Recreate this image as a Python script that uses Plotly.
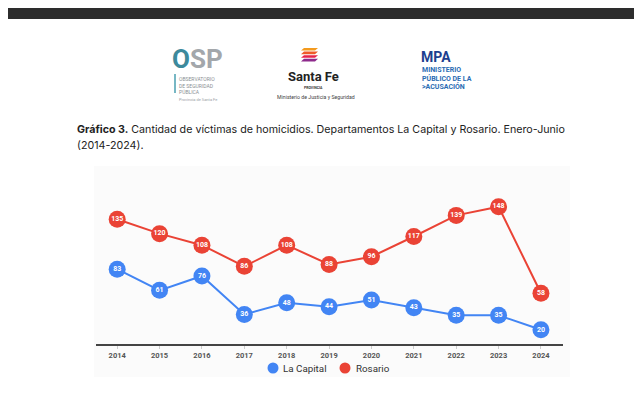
import plotly.graph_objects as go

years = [2014, 2015, 2016, 2017, 2018, 2019, 2020, 2021, 2022, 2023, 2024]
la_capital = [83, 61, 76, 36, 48, 44, 51, 43, 35, 35, 20]
rosario = [135, 120, 108, 86, 108, 88, 96, 117, 139, 148, 58]
series_names = ["La Capital", "Rosario"]
title_bold = "Gráfico 3."
title_rest = "Cantidad de víctimas de homicidios. Departamentos La Capital y Rosario. Enero-Junio"
title_line2 = "(2014-2024)."

# page offset: the html body has an 8px margin
OFF = 8
W, H = 642 - OFF, 411 - OFF
BLUE = "#4285F4"
RED = "#EA4335"


def fx(x):
    return (x - OFF) / W


def fy(y):
    return 1 - (y - OFF) / H


fig = go.Figure()

for name, vals, col in [(series_names[0], la_capital, BLUE), (series_names[1], rosario, RED)]:
    fig.add_trace(go.Scatter(
        x=years, y=vals, mode="lines+markers+text", name=name,
        line=dict(color=col, width=2),
        marker=dict(color=col, size=17),
        text=[str(v) for v in vals], textposition="middle center",
        textfont=dict(color="white", size=7, family="Roboto", weight="bold"),
        showlegend=False, cliponaxis=False,
    ))

shapes = []
# top dark bar
shapes.append(dict(type="rect", xref="paper", yref="paper", x0=0, x1=1,
                   y0=fy(19), y1=fy(8), fillcolor="#2d2d2d", line_width=0, layer="below"))
# right vertical line
shapes.append(dict(type="line", xref="paper", yref="paper", x0=fx(640), x1=fx(640),
                   y0=fy(378), y1=1, line=dict(color="#2d2d2d", width=2)))
# faint chart background
shapes.append(dict(type="rect", xref="paper", yref="paper", x0=fx(94), x1=fx(570),
                   y0=fy(377), y1=fy(166), fillcolor="#fbfbfb", line_width=0, layer="below"))
# OSP vertical teal line
shapes.append(dict(type="line", xref="paper", yref="paper", x0=fx(175), x1=fx(175),
                   y0=fy(93), y1=fy(74), line=dict(color="#4a9fb0", width=1.5)))
# Santa Fe icon stripes
stripe_cols = ["#f39a1e", "#ef5a28", "#e6224b", "#8e2a8c"]
for i, c in enumerate(stripe_cols):
    y0 = 48 + i * 3.6
    path = "M {x0},{y0} L {x1},{y0} L {x2},{y1} L {x3},{y1} Z".format(
        x0=fx(304), x1=fx(318), x2=fx(315), x3=fx(301),
        y0=fy(y0), y1=fy(y0 + 2.6))
    shapes.append(dict(type="path", xref="paper", yref="paper", path=path,
                       fillcolor=c, line_width=0))

# manual legend circles
R = 5.5
for cx, col in [(273, BLUE), (345, RED)]:
    shapes.append(dict(type="circle", xref="paper", yref="paper",
                       x0=fx(cx - R), x1=fx(cx + R), y0=fy(368 + R), y1=fy(368 - R),
                       fillcolor=col, line_width=0))

ann = []


def add_text(x, y, text, size, color="#222", xanchor="left", family="Roboto", bold=False,
             yanchor="middle"):
    ann.append(dict(x=fx(x), y=fy(y), xref="paper", yref="paper", text=text,
                    showarrow=False, xanchor=xanchor, yanchor=yanchor, borderpad=0,
                    align="left",
                    font=dict(size=size, color=color, family=family,
                              weight="bold" if bold else "normal")))


# OSP logo
add_text(171, 74.5, "<span style='color:#3d8a9c'>O</span>SP", 26, "#a3a7ab", bold=True,
         yanchor="bottom")
add_text(178, 74.5, "OBSERVATORIO<br>DE SEGURIDAD<br>PÚBLICA<br>"
         "<span style='font-size:4px;color:#9aa0a6'>Provincia de Santa Fe</span>",
         5, "#8a8f94", yanchor="top")
# Santa Fe logo
add_text(313, 76, "Santa Fe", 13, "#222", xanchor="center", bold=True)
add_text(313, 88, "PROVINCIA", 3.5, "#333", xanchor="center", bold=True)
add_text(316, 97, "Ministerio de Justicia y Seguridad", 5.2, "#444", xanchor="center")
# MPA logo
add_text(420, 57, "MPA", 14, "#1d3f8f", bold=True)
add_text(421, 70.5, "MINISTERIO", 7, "#2a6cb3", bold=True)
add_text(421, 78.5, "PÚBLICO DE LA", 7, "#2a6cb3", bold=True)
add_text(421, 86.5, "&gt;ACUSACIÓN", 7, "#2a6cb3", bold=True)

# Title
add_text(76, 130, "<b>" + title_bold + "</b> " + title_rest, 10.7, "#222", family="Inter")
add_text(76, 145, title_line2, 10.7, "#222", family="Inter")

# legend texts
add_text(282, 368, series_names[0], 9.8, "#333")
add_text(355, 368, series_names[1], 9.8, "#333")

fig.update_layout(
    width=W, height=H, autosize=False,
    margin=dict(l=0, r=0, t=0, b=0, pad=0),
    paper_bgcolor="white", plot_bgcolor="rgba(0,0,0,0)",
    shapes=shapes, annotations=ann, showlegend=False,
    xaxis=dict(domain=[fx(96), fx(563)], range=[2013.5, 2024.52],
               tickmode="array", tickvals=years, ticktext=[str(y) for y in years],
               showgrid=False, zeroline=False, showline=True, linecolor="#444", linewidth=1.5,
               ticks="outside", ticklen=3, tickcolor="#ccc",
               tickfont=dict(size=7.5, color="#555", family="Roboto", weight="bold")),
    yaxis=dict(domain=[fy(344), fy(175)], range=[5.2, 181], visible=False),
)

fig.write_html("out.html")
